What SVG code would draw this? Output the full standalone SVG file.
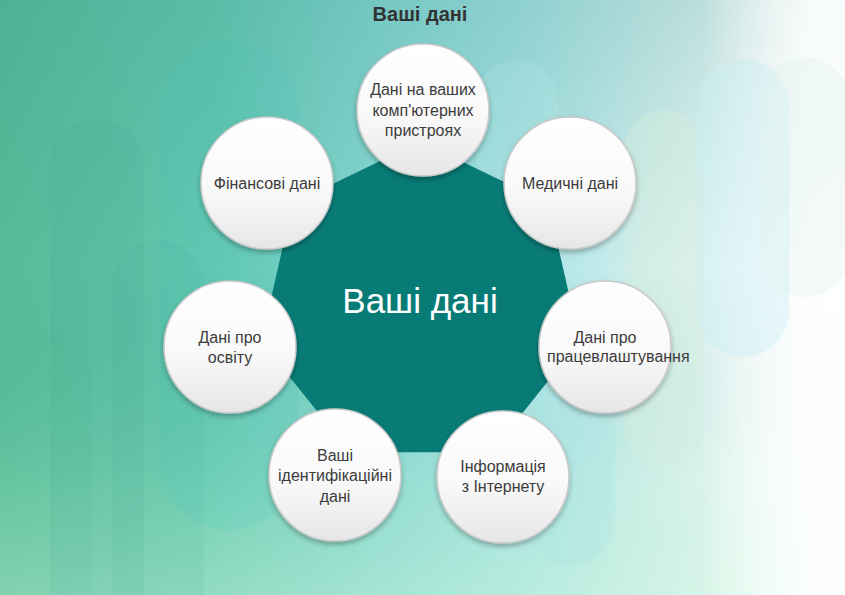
<svg xmlns="http://www.w3.org/2000/svg" width="845" height="595" viewBox="0 0 845 595">
<defs>
<linearGradient id="bgH" x1="0" y1="0" x2="1" y2="0">
<stop offset="0" stop-color="#55bb98"/>
<stop offset="0.25" stop-color="#66c8b0"/>
<stop offset="0.45" stop-color="#88d7d3"/>
<stop offset="0.62" stop-color="#aae3e5"/>
<stop offset="0.78" stop-color="#d5f0ef"/>
<stop offset="0.92" stop-color="#f8fcfc"/>
<stop offset="1" stop-color="#ffffff"/>
</linearGradient>
<linearGradient id="bgV" x1="0" y1="0" x2="0" y2="1">
<stop offset="0" stop-color="#2f8f86" stop-opacity="0.22"/>
<stop offset="0.45" stop-color="#2f8f86" stop-opacity="0"/>
<stop offset="0.8" stop-color="#b8f0c8" stop-opacity="0.2"/>
<stop offset="1" stop-color="#c8f5d8" stop-opacity="0.45"/>
</linearGradient>
<linearGradient id="bgR" gradientUnits="userSpaceOnUse" x1="700" y1="0" x2="810" y2="0">
<stop offset="0" stop-color="#ffffff" stop-opacity="0"/>
<stop offset="1" stop-color="#ffffff" stop-opacity="0.85"/>
</linearGradient>
<linearGradient id="ball" x1="0" y1="0" x2="0" y2="1">
<stop offset="0" stop-color="#ffffff"/>
<stop offset="0.55" stop-color="#f9f9f9"/>
<stop offset="1" stop-color="#e6e6e6"/>
</linearGradient>
<filter id="sh" x="-20%" y="-20%" width="140%" height="150%">
<feDropShadow dx="0" dy="3" stdDeviation="2.5" flood-color="#000" flood-opacity="0.28"/>
</filter>
<style>
.pill{stroke:none}
.c{fill:url(#ball);stroke:#c9c9c9;stroke-width:1.5;filter:url(#sh)}
.t{font-family:"Liberation Sans",Arial,sans-serif;font-size:16px;fill:#3c3c3c;text-anchor:middle}
.ts{font-family:"Liberation Sans",Arial,sans-serif;font-size:16px;fill:#3c3c3c;text-anchor:start}
.title{font-family:"Liberation Sans",Arial,sans-serif;font-size:20px;font-weight:bold;fill:#333;text-anchor:middle}
.ct{font-family:"Liberation Sans",Arial,sans-serif;font-size:35px;fill:#ffffff;text-anchor:middle}
</style>
</defs>
<g id="background">
<rect x="0" y="0" width="845" height="595" fill="url(#bgH)"/>
<rect x="0" y="0" width="845" height="595" fill="url(#bgV)"/>
<rect x="0" y="0" width="845" height="595" fill="url(#bgR)"/>
<rect class="pill" x="50" y="118" width="94" height="520" rx="47" fill="#3f9f85" opacity="0.1"/>
<rect class="pill" x="112" y="240" width="92" height="400" rx="46" fill="#2f9a8a" opacity="0.07"/>
<rect class="pill" x="0" y="330" width="92" height="300" rx="46" fill="#43b38d" opacity="0.08"/>
<rect class="pill" x="160" y="40" width="138" height="490" rx="69" fill="#3cc4c4" opacity="0.12"/>
<rect class="pill" x="476" y="60" width="82" height="500" rx="41" fill="#b8e8e8" opacity="0.25"/>
<rect class="pill" x="527" y="300" width="88" height="266" rx="44" fill="#a8e4e6" opacity="0.25"/>
<rect class="pill" x="624" y="110" width="80" height="358" rx="40" fill="#d4eedc" opacity="0.4"/>
<rect class="pill" x="697" y="60" width="92" height="297" rx="46" fill="#c8eef4" opacity="0.4"/>
<rect class="pill" x="760" y="57" width="90" height="240" rx="45" fill="#e2f3ee" opacity="0.4"/>
</g>
<text class="title" x="420" y="21">Ваші дані</text>
<g id="connectors"></g>
<g id="center">
<polygon points="571.5,305 556.5,370.5 514.6,423.1 454.1,452.2 386.9,452.2 326.4,423.1 284.5,370.5 269.5,305 284.5,239.5 326.4,186.9 386.9,157.8 454.1,157.8 514.6,186.9 556.5,239.5" fill="#087b76"/>
<text class="ct" x="420" y="313">Ваші дані</text>
</g>
<g id="n-computers">
<circle class="c" cx="423" cy="110" r="66"/>
<text class="t" x="423" y="95">Дані на ваших</text>
<text class="t" x="423" y="115.5">комп'ютерних</text>
<text class="t" x="423" y="136">пристроях</text>
</g>
<g id="n-finance">
<circle class="c" cx="267" cy="183" r="66"/>
<text class="t" x="267" y="188.5">Фінансові дані</text>
</g>
<g id="n-medical">
<circle class="c" cx="570" cy="183" r="66"/>
<text class="t" x="570" y="188.5">Медичні дані</text>
</g>
<g id="n-education">
<circle class="c" cx="230" cy="347" r="66"/>
<text class="t" x="230" y="342.5">Дані про</text>
<text class="t" x="230" y="362.5">освіту</text>
</g>
<g id="n-employment">
<circle class="c" cx="605" cy="347" r="66"/>
<text class="t" x="605" y="342.5">Дані про</text>
<text class="ts" x="547" y="362">працевлаштування</text>
</g>
<g id="n-identity">
<circle class="c" cx="335" cy="475" r="66"/>
<text class="t" x="335" y="460.5">Ваші</text>
<text class="t" x="335" y="481">ідентифікаційні</text>
<text class="t" x="335" y="501.5">дані</text>
</g>
<g id="n-internet">
<circle class="c" cx="503" cy="477" r="66"/>
<text class="t" x="503" y="471.5">Інформація</text>
<text class="t" x="503" y="492">з Інтернету</text>
</g>
</svg>
